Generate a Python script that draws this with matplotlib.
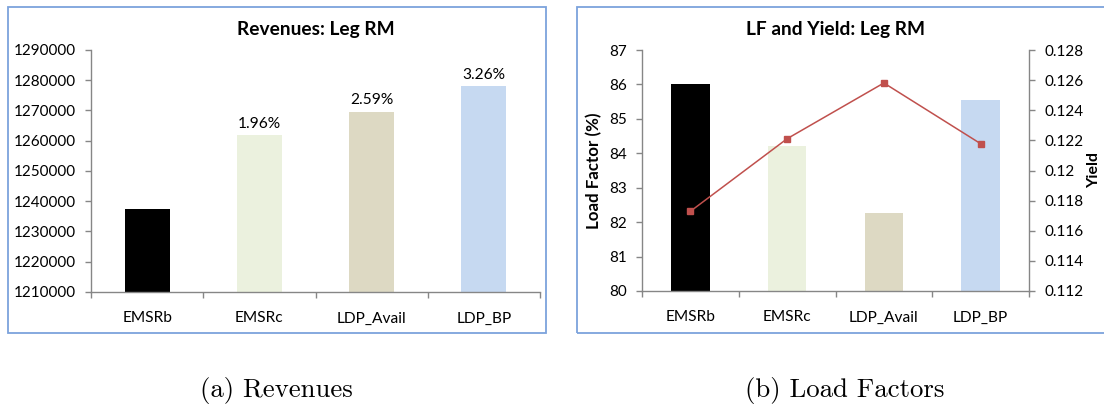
import matplotlib
matplotlib.use("Agg")
import matplotlib.pyplot as plt
from matplotlib.patches import Rectangle

# Data
methods = ["EMSRb", "EMSRc", "LDP_Avail", "LDP_BP"]
revenues = [1237600, 1261850, 1269650, 1277950]
revenue_gain_labels = ["", "1.96%", "2.59%", "3.26%"]
load_factor = [86.0, 84.21, 82.27, 85.55]
yield_values = [0.11729, 0.12211, 0.12581, 0.12178]
bar_colors = ["#000000", "#EBF1DE", "#DDD9C3", "#C6D9F1"]

rev_ticks = list(range(1210000, 1290001, 10000))
lf_ticks = list(range(80, 88))
yield_ticks = [0.112, 0.114, 0.116, 0.118, 0.12, 0.122, 0.124, 0.126, 0.128]
yield_tick_labels = ["0.112", "0.114", "0.116", "0.118", "0.12", "0.122", "0.124", "0.126", "0.128"]

W, H = 1104, 407
AXIS_GREY = "#868686"
FRAME_BLUE = "#7CA3DC"
LINE_RED = "#C0504D"

TICK_FS = 11
CAT_FS = 11.2
TITLE_FS = 13.8
LABEL_FS = 12.2

plt.rcParams["font.family"] = ["Lato", "DejaVu Sans"]
fig = plt.figure(figsize=(W / 100, H / 100), dpi=100)


def fig_rect(x0, y0, x1, y1):
    """Pixel box (top-left origin) to figure-fraction [l, b, w, h]."""
    return [x0 / W, 1 - y1 / H, (x1 - x0) / W, (y1 - y0) / H]


# Chart frames
for (x0, y0, x1, y1) in [(8, 7, 546, 333), (577, 7, 1110, 333)]:
    fig.patches.append(Rectangle((x0 / W, 1 - y1 / H), (x1 - x0) / W, (y1 - y0) / H,
                                 transform=fig.transFigure, fill=False,
                                 edgecolor=FRAME_BLUE, linewidth=1.3))


def style_category_axis(ax):
    ax.set_xlim(-0.5, len(methods) - 0.5)
    ax.set_xticks(range(len(methods)))
    ax.set_xticklabels(methods, fontsize=CAT_FS)
    ax.set_xticks([i - 0.5 for i in range(len(methods) + 1)], minor=True)
    ax.tick_params(axis="x", which="major", length=0, pad=14)
    ax.tick_params(axis="x", which="minor", length=4, width=1, color=AXIS_GREY, direction="out")
    ax.tick_params(axis="y", length=4, width=1, color=AXIS_GREY, direction="out", pad=7,
                   labelsize=TICK_FS)
    for s in ("top", "right"):
        ax.spines[s].set_visible(False)
    for s in ("left", "bottom"):
        ax.spines[s].set_color(AXIS_GREY)
        ax.spines[s].set_linewidth(1)


# (a) Revenues
ax1 = fig.add_axes(fig_rect(91, 50, 540, 292))
x = range(len(methods))
bars = ax1.bar(x, revenues, width=0.4, color=bar_colors, zorder=2)
ax1.set_ylim(rev_ticks[0], rev_ticks[-1])
ax1.set_yticks(rev_ticks)
ax1.set_yticklabels([str(t) for t in rev_ticks])
style_category_axis(ax1)
for b, lab in zip(bars, revenue_gain_labels):
    if lab:
        ax1.annotate(lab, (b.get_x() + b.get_width() / 2, b.get_height()),
                     xytext=(0, 3), textcoords="offset points",
                     ha="center", va="bottom", fontsize=CAT_FS)
ax1.set_title("Revenues: Leg RM", fontsize=TITLE_FS, fontweight="bold", pad=11)

# (b) Load factor and yield
ax2 = fig.add_axes(fig_rect(642, 50, 1029, 291))
ax2.bar(x, load_factor, width=0.4, color=bar_colors, zorder=2)
ax2.set_ylim(lf_ticks[0], lf_ticks[-1])
ax2.set_yticks(lf_ticks)
style_category_axis(ax2)
ax2.set_ylabel("Load Factor (%)", fontsize=LABEL_FS, fontweight="bold", labelpad=5)
ax2.set_title("LF and Yield: Leg RM", fontsize=TITLE_FS, fontweight="bold", pad=11)

ax3 = ax2.twinx()
ax3.plot(x, yield_values, color=LINE_RED, linewidth=1.1, marker="s",
         markersize=4.5, markerfacecolor=LINE_RED, markeredgecolor=LINE_RED, zorder=3)
ax3.set_ylim(yield_ticks[0], yield_ticks[-1])
ax3.set_yticks(yield_ticks)
ax3.set_yticklabels(yield_tick_labels)
ax3.tick_params(axis="y", length=4, width=1, color=AXIS_GREY, direction="out", pad=7,
                labelsize=TICK_FS)
for s in ("top", "left", "bottom"):
    ax3.spines[s].set_visible(False)
ax3.spines["right"].set_color(AXIS_GREY)
ax3.spines["right"].set_linewidth(1)
# Secondary axis title sits at the right border of the chart area
fig.text(1087 / W, 1 - 170 / H, "Yield", rotation=90, fontsize=11.5,
         fontweight="bold", ha="left", va="center")

# Sub-captions
fig.text(276 / W, 1 - 391 / H, "(a) Revenues", family="cmr10", fontsize=19.3,
         ha="center", va="center")
fig.text(845 / W, 1 - 391 / H, "(b) Load Factors", family="cmr10", fontsize=19.3,
         ha="center", va="center")

fig.savefig("out.png", dpi=100)
